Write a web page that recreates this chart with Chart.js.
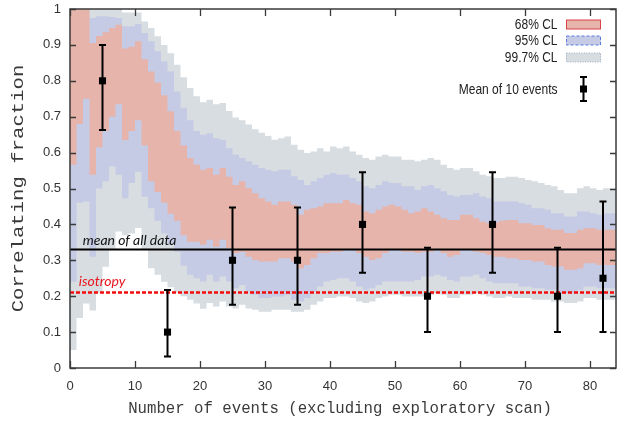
<!DOCTYPE html>
<html>
<head>
<meta charset="utf-8">
<script src="https://cdn.jsdelivr.net/npm/chart.js@4.4.1/dist/chart.umd.min.js"></script>
<style>
  html, body { margin: 0; padding: 0; background: #fff; }
</style>
</head>
<body>
<canvas id="myChart" width="624" height="421"></canvas>
<script>
// confidence bands, one value per event bin (bin k spans k..k+1)
var gray997Hi = [1, 1, 1, 1, 1, 1, 1, 1, 0.99, 0.99, 0.99, 0.965, 0.947, 0.924, 0.90, 0.877, 0.845, 0.81, 0.78, 0.757, 0.74, 0.747, 0.735, 0.738, 0.716, 0.698, 0.69, 0.678, 0.665, 0.655, 0.646, 0.636, 0.640,
  0.645, 0.622, 0.608, 0.599, 0.603, 0.612, 0.603, 0.617, 0.612, 0.617, 0.603, 0.594, 0.585, 0.580, 0.589, 0.594, 0.589,
  0.589, 0.580, 0.580, 0.576, 0.580, 0.585, 0.580, 0.566, 0.557, 0.552, 0.557, 0.557, 0.548, 0.538, 0.534, 0.529, 0.529,
  0.533, 0.533, 0.529, 0.524, 0.520, 0.515, 0.510, 0.506, 0.496, 0.487, 0.487, 0.501, 0.506, 0.501, 0.496, 0.501, 0.501];
var blue95Hi = [1, 1, 1, 0.975, 0.98, 0.98, 0.978, 0.975, 0.952, 0.952, 0.958, 0.933, 0.910, 0.882, 0.854, 0.826, 0.77, 0.725, 0.69, 0.66, 0.65, 0.654, 0.640, 0.636, 0.612, 0.594, 0.585, 0.576, 0.566, 0.557, 0.552, 0.548, 0.552,
  0.552, 0.534, 0.524, 0.510, 0.520, 0.529, 0.538, 0.543, 0.538, 0.538, 0.529, 0.520, 0.506, 0.501, 0.510, 0.520, 0.515,
  0.515, 0.506, 0.506, 0.496, 0.506, 0.510, 0.501, 0.492, 0.482, 0.478, 0.482, 0.482, 0.487, 0.478, 0.473, 0.464, 0.464,
  0.464, 0.464, 0.459, 0.455, 0.445, 0.445, 0.441, 0.431, 0.431, 0.422, 0.422, 0.436, 0.436, 0.431, 0.427, 0.431, 0.431];
var red68Hi = [1, 1, 1, 0.905, 0.925, 0.935, 0.947, 0.956, 0.89, 0.895, 0.91, 0.86, 0.826, 0.795, 0.76, 0.715, 0.66, 0.62, 0.585, 0.566, 0.552, 0.557, 0.538, 0.557, 0.533, 0.510, 0.520, 0.501, 0.487, 0.473, 0.464, 0.455, 0.464,
  0.464, 0.455, 0.427, 0.441, 0.445, 0.450, 0.459, 0.459, 0.459, 0.468, 0.459, 0.455, 0.436, 0.431, 0.441, 0.450, 0.455,
  0.450, 0.441, 0.431, 0.436, 0.445, 0.436, 0.427, 0.417, 0.412, 0.412, 0.427, 0.427, 0.417, 0.408, 0.403, 0.405, 0.41,
  0.412, 0.412, 0.403, 0.403, 0.398, 0.398, 0.389, 0.385, 0.385, 0.376, 0.376, 0.385, 0.389, 0.389, 0.385, 0.385, 0.385];
var red68Lo = [0.566, 0.68, 0.75, 0.538, 0.615, 0.66, 0.70, 0.735, 0.635, 0.66, 0.69, 0.62, 0.52, 0.49, 0.46, 0.43, 0.41, 0.37, 0.352, 0.352, 0.343, 0.357, 0.338, 0.357, 0.334, 0.320, 0.324, 0.310, 0.301, 0.297, 0.297, 0.297, 0.306,
  0.306, 0.297, 0.278, 0.287, 0.306, 0.320, 0.320, 0.324, 0.324, 0.329, 0.329, 0.320, 0.310, 0.301, 0.306, 0.320, 0.329,
  0.329, 0.324, 0.324, 0.320, 0.324, 0.324, 0.329, 0.320, 0.310, 0.315, 0.329, 0.329, 0.324, 0.320, 0.315, 0.310, 0.310,
  0.306, 0.306, 0.301, 0.301, 0.297, 0.297, 0.287, 0.283, 0.283, 0.274, 0.274, 0.278, 0.292, 0.292, 0.287, 0.287, 0.287];
var blue95Lo = [0.24, 0.46, 0.464, 0.31, 0.50, 0.52, 0.561, 0.538, 0.473, 0.515, 0.547, 0.477, 0.445, 0.41, 0.375, 0.345, 0.324, 0.285, 0.26, 0.25, 0.241, 0.26, 0.241, 0.255, 0.241, 0.222, 0.231, 0.213, 0.204, 0.195, 0.195, 0.199, 0.199,
  0.204, 0.190, 0.185, 0.195, 0.213, 0.227, 0.241, 0.245, 0.250, 0.250, 0.241, 0.227, 0.218, 0.222, 0.231, 0.241, 0.241,
  0.241, 0.241, 0.241, 0.245, 0.255, 0.255, 0.260, 0.255, 0.245, 0.241, 0.255, 0.255, 0.260, 0.250, 0.241, 0.236, 0.236,
  0.236, 0.236, 0.227, 0.227, 0.222, 0.222, 0.218, 0.218, 0.208, 0.208, 0.208, 0.218, 0.227, 0.227, 0.222, 0.222, 0.222];
var gray997Lo = [0.05, 0.139, 0.18, 0.16, 0.21, 0.282, 0.33, 0.38, 0.37, 0.375, 0.39, 0.33, 0.278, 0.26, 0.24, 0.225, 0.21, 0.20, 0.19, 0.18, 0.165, 0.181, 0.171, 0.185, 0.171, 0.166, 0.176, 0.166, 0.162, 0.157, 0.157, 0.162, 0.162,
  0.162, 0.157, 0.157, 0.162, 0.176, 0.185, 0.195, 0.195, 0.199, 0.199, 0.195, 0.185, 0.181, 0.185, 0.195, 0.199, 0.204,
  0.204, 0.199, 0.199, 0.199, 0.199, 0.204, 0.208, 0.204, 0.195, 0.195, 0.204, 0.204, 0.208, 0.204, 0.199, 0.195, 0.195,
  0.199, 0.195, 0.195, 0.195, 0.190, 0.190, 0.190, 0.185, 0.185, 0.181, 0.181, 0.185, 0.195, 0.195, 0.190, 0.190, 0.190];

// means of 10 events with their error bars
var sampleX = [5, 15, 25, 35, 45, 55, 65, 75, 82];
var sampleMean = [0.80, 0.10, 0.30, 0.30, 0.40, 0.20, 0.40, 0.20, 0.25];
var sampleLo = [0.663, 0.032, 0.176, 0.176, 0.265, 0.10, 0.265, 0.10, 0.10];
var sampleHi = [0.90, 0.217, 0.447, 0.447, 0.545, 0.335, 0.545, 0.335, 0.464];

var meanAll = 0.33;
var isotropy = 0.21;
var xMax = 84;

var xTicks = [0, 10, 20, 30, 40, 50, 60, 70, 80];
var yTicks = [0, 0.1, 0.2, 0.3, 0.4, 0.5, 0.6, 0.7, 0.8, 0.9, 1];
var yTickLabels = ['0', '0.1', '0.2', '0.3', '0.4', '0.5', '0.6', '0.7', '0.8', '0.9', '1'];

var legendItems = ['68% CL', '95% CL', '99.7% CL'];
var legendFill = ['#e6b4ab', '#c5cae5', '#d8dde1'];
var legendLine = ['#d9434a', '#5a7be0', '#9fb0c8'];
var legendDash = [[], [3, 2], [1, 1.5]];

var RED = '#e6b4ab';
var BLUE = '#c5cae5';
var GRAY = '#d8dde1';

function steps(arr) {
  var pts = [];
  for (var i = 0; i < arr.length; i++) {
    pts.push({x: i, y: arr[i]});
  }
  pts.push({x: xMax, y: arr[arr.length - 1]});
  return pts;
}

function band(arr, color, fill) {
  return {
    data: steps(arr),
    stepped: true,
    borderWidth: 0,
    borderColor: 'rgba(0,0,0,0)',
    backgroundColor: color,
    pointRadius: 0,
    fill: fill
  };
}

var samplePts = [];
for (var i = 0; i < sampleX.length; i++) {
  samplePts.push({x: sampleX[i], y: sampleMean[i]});
}

var plotDecor = {
  id: 'plotDecor',
  afterDatasetsDraw: function(chart) {
    var ctx = chart.ctx;
    var xs = chart.scales.x;
    var ys = chart.scales.y;

    // labels on the horizontal reference lines
    ctx.save();
    ctx.font = 'italic 14px Lato';
    ctx.textBaseline = 'alphabetic';
    ctx.textAlign = 'left';
    ctx.fillStyle = '#111';
    ctx.fillText('mean of all data', xs.getPixelForValue(1.95), ys.getPixelForValue(0.343));
    ctx.fillStyle = '#e8161e';
    ctx.fillText('isotropy', xs.getPixelForValue(1.35), ys.getPixelForValue(0.229));
    ctx.restore();

    // error bars
    ctx.save();
    ctx.strokeStyle = '#000';
    ctx.lineWidth = 2;
    for (var i = 0; i < sampleX.length; i++) {
      var px = xs.getPixelForValue(sampleX[i]);
      var top = ys.getPixelForValue(sampleHi[i]);
      var bot = ys.getPixelForValue(sampleLo[i]);
      ctx.beginPath();
      ctx.moveTo(px, top);
      ctx.lineTo(px, bot);
      ctx.moveTo(px - 3.5, top);
      ctx.lineTo(px + 3.5, top);
      ctx.moveTo(px - 3.5, bot);
      ctx.lineTo(px + 3.5, bot);
      ctx.stroke();
    }
    ctx.restore();
  },
  afterDraw: function(chart) {
    var ctx = chart.ctx;
    var a = chart.chartArea;
    var xs = chart.scales.x;
    var ys = chart.scales.y;

    ctx.save();
    // frame
    ctx.strokeStyle = '#3a3a3a';
    ctx.lineWidth = 1.5;
    ctx.strokeRect(a.left, a.top, a.right - a.left, a.bottom - a.top);

    // inward tick marks, mirrored
    ctx.lineWidth = 1.3;
    ctx.beginPath();
    for (var i = 0; i < xTicks.length; i++) {
      var px = Math.round(xs.getPixelForValue(xTicks[i])) + 0.5;
      ctx.moveTo(px, a.bottom);
      ctx.lineTo(px, a.bottom - 7);
      ctx.moveTo(px, a.top);
      ctx.lineTo(px, a.top + 7);
    }
    for (var j = 0; j < yTicks.length; j++) {
      var py = Math.round(ys.getPixelForValue(yTicks[j])) + 0.5;
      ctx.moveTo(a.left, py);
      ctx.lineTo(a.left + 6, py);
      ctx.moveTo(a.right, py);
      ctx.lineTo(a.right - 6, py);
    }
    ctx.stroke();

    // tick labels
    ctx.fillStyle = '#333';
    ctx.font = '13px "Liberation Sans"';
    ctx.textAlign = 'center';
    ctx.textBaseline = 'middle';
    for (var k = 0; k < xTicks.length; k++) {
      ctx.fillText(String(xTicks[k]), xs.getPixelForValue(xTicks[k]), a.bottom + 18);
    }
    ctx.textAlign = 'right';
    for (var m = 0; m < yTicks.length; m++) {
      ctx.fillText(yTickLabels[m], a.left - 9, ys.getPixelForValue(yTicks[m]));
    }

    // axis titles
    ctx.fillStyle = '#3a3a3a';
    ctx.font = '15.7px "Liberation Mono"';
    ctx.textAlign = 'center';
    ctx.fillText('Number of events (excluding exploratory scan)', 340, 409);
    ctx.save();
    ctx.translate(19, (a.top + a.bottom) / 2);
    ctx.rotate(-Math.PI / 2);
    ctx.scale(1.25, 1);
    ctx.font = '16.5px "Liberation Mono"';
    ctx.fillText('Correlating fraction', 0, 0);
    ctx.restore();

    // key, top right
    var textRight = 557.5;
    var boxL = 566, boxR = 601;
    var rowY = [24.5, 40.5, 57.5];
    ctx.font = '15px "Liberation Sans"';
    ctx.textBaseline = 'middle';
    for (var n = 0; n < legendItems.length; n++) {
      ctx.save();
      ctx.translate(textRight, rowY[n]);
      ctx.scale(0.8, 1);
      ctx.textAlign = 'right';
      ctx.fillStyle = '#222';
      ctx.fillText(legendItems[n], 0, 0);
      ctx.restore();
      ctx.fillStyle = legendFill[n];
      ctx.fillRect(boxL, rowY[n] - 4.5, boxR - boxL, 9);
      ctx.strokeStyle = legendLine[n];
      ctx.lineWidth = 1;
      ctx.setLineDash(legendDash[n]);
      ctx.strokeRect(boxL + 0.5, rowY[n] - 4.5, boxR - boxL - 1, 9);
      ctx.setLineDash([]);
    }
    ctx.save();
    ctx.translate(textRight, 90);
    ctx.scale(0.8, 1);
    ctx.textAlign = 'right';
    ctx.fillStyle = '#222';
    ctx.fillText('Mean of 10 events', 0, 0);
    ctx.restore();
    var sx = 583.5;
    ctx.strokeStyle = '#000';
    ctx.lineWidth = 2;
    ctx.beginPath();
    ctx.moveTo(sx, 77);
    ctx.lineTo(sx, 101);
    ctx.moveTo(sx - 3.5, 77);
    ctx.lineTo(sx + 3.5, 77);
    ctx.moveTo(sx - 3.5, 101);
    ctx.lineTo(sx + 3.5, 101);
    ctx.stroke();
    ctx.fillStyle = '#000';
    ctx.fillRect(sx - 3.5, 85.5, 7, 7);
    ctx.restore();
  }
};

var ctx = document.getElementById('myChart');
var chart = new Chart(ctx, {
  type: 'line',
  data: {
    datasets: [
      {
        // means of 10 events
        data: samplePts,
        showLine: false,
        pointStyle: 'rect',
        pointRadius: 5,
        backgroundColor: '#000',
        borderColor: '#000',
        borderWidth: 0
      },
      {
        data: [{x: 0, y: meanAll}, {x: xMax, y: meanAll}],
        borderColor: '#000',
        borderWidth: 2,
        pointRadius: 0,
        fill: false
      },
      {
        data: [{x: 0, y: isotropy}, {x: xMax, y: isotropy}],
        borderColor: '#f20d0d',
        borderWidth: 2.5,
        borderDash: [4, 2],
        pointRadius: 0,
        fill: false
      },
      band(red68Hi, RED, '+1'),
      band(red68Lo, RED, false),
      band(blue95Hi, BLUE, '+1'),
      band(blue95Lo, BLUE, false),
      band(gray997Hi, GRAY, '+1'),
      band(gray997Lo, GRAY, false)
    ]
  },
  options: {
    responsive: false,
    animation: false,
    devicePixelRatio: 1,
    layout: {
      padding: {top: 9, right: 8, left: 0, bottom: 0}
    },
    plugins: {
      legend: {display: false},
      tooltip: {enabled: false},
      filler: {propagate: false}
    },
    scales: {
      x: {
        type: 'linear',
        min: 0,
        max: xMax,
        grid: {display: false},
        border: {display: false},
        ticks: {display: false},
        afterFit: function(scale) { scale.height = 53; }
      },
      y: {
        type: 'linear',
        min: 0,
        max: 1,
        grid: {display: false},
        border: {display: false},
        ticks: {display: false},
        afterFit: function(scale) { scale.width = 70; }
      }
    }
  },
  plugins: [plotDecor]
});
</script>
</body>
</html>
